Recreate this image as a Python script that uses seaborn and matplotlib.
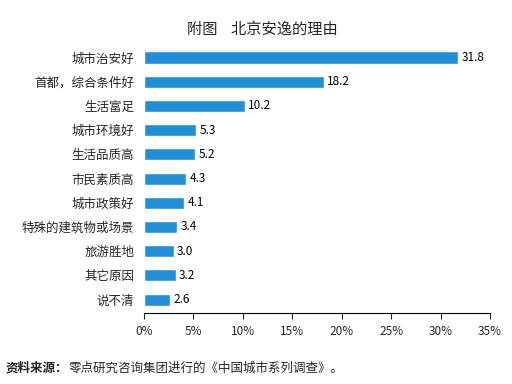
import matplotlib
matplotlib.use("Agg")
import matplotlib.pyplot as plt
import seaborn as sns
import pandas as pd

reasons = ["城市治安好", "首都，综合条件好", "生活富足", "城市环境好", "生活品质高",
           "市民素质高", "城市政策好", "特殊的建筑物或场景", "旅游胜地", "其它原因", "说不清"]
shares = [31.8, 18.2, 10.2, 5.3, 5.2, 4.3, 4.1, 3.4, 3.0, 3.2, 2.6]
xticks = [0, 5, 10, 15, 20, 25, 30, 35]

sns.set_theme(style="white")
plt.rcParams['font.family'] = ['Noto Sans CJK SC', 'DejaVu Sans']

df = pd.DataFrame({"reason": reasons, "share": shares})

fig = plt.figure(figsize=(5.12, 3.84), dpi=100)
ax = fig.add_axes([0.281, 0.185, 0.676, 0.70])
sns.barplot(data=df, x="share", y="reason", color="#2290D8", width=0.5,
            saturation=1, ax=ax)

for i, v in enumerate(shares):
    ax.text(v + 0.35, i, f"{v:.1f}", va="center", ha="left", fontsize=8.5, color="black")

ax.set_xlim(0, 35)
ax.set_ylim(10.55, -0.55)
ax.set_xticks(xticks)
ax.set_xticklabels([f"{t}%" for t in xticks], fontsize=8.5)
ax.tick_params(axis="y", labelsize=9, length=0, pad=7)
ax.tick_params(axis="x", length=4, width=0.8, direction="out", bottom=True, pad=5)
ax.set_xlabel("")
ax.set_ylabel("")
for s in ["top", "right", "left"]:
    ax.spines[s].set_visible(False)
ax.spines["bottom"].set_color("black")
ax.spines["bottom"].set_linewidth(0.8)

fig.text(0.512, 0.925, "附图    北京安逸的理由", ha="center", va="center", fontsize=11)
fig.text(0.01, 0.042, "资料来源：", ha="left", va="center", fontsize=9, fontweight="bold")
fig.text(0.01 + 0.124, 0.042, "零点研究咨询集团进行的《中国城市系列调查》。", ha="left",
         va="center", fontsize=9)

fig.savefig("out.png", dpi=100)
